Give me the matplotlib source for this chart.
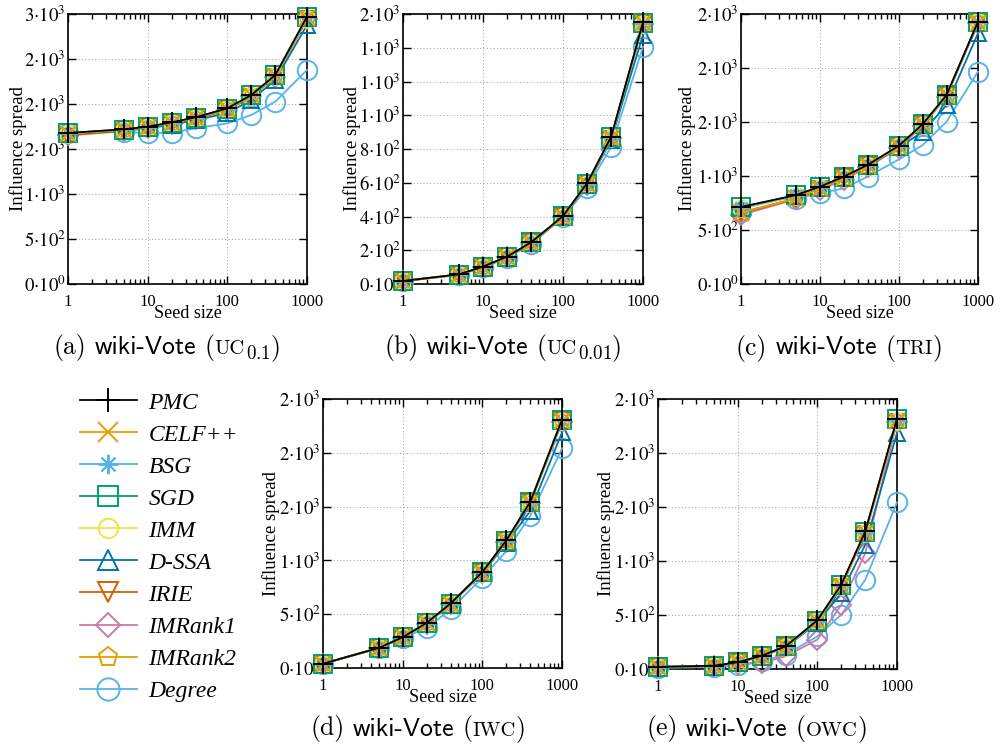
import matplotlib
matplotlib.use("Agg")
import matplotlib.pyplot as plt
from matplotlib.lines import Line2D
from matplotlib.offsetbox import TextArea, HPacker, AnnotationBbox

plt.rcParams['mathtext.fontset'] = 'stix'
plt.rcParams['font.family'] = ['Liberation Serif', 'DejaVu Serif']

seed_sizes = [1, 5, 10, 20, 40, 100, 200, 400, 1000]
methods = ["PMC", "CELF++", "BSG", "SGD", "IMM", "D-SSA", "IRIE", "IMRank1", "IMRank2", "Degree"]

# (a) UC 0.1
spread_uc01 = {
    "PMC":     [1678, 1719, 1748, 1796, 1852, 1952, 2100, 2322, 2970],
    "CELF++":  [1670, 1715, 1745, 1790, 1848, 1945, 2095, 2315, 2960],
    "BSG":     [1675, 1718, 1746, 1793, 1850, 1950, 2098, 2320, 2965],
    "SGD":     [1676, 1716, 1745, 1792, 1850, 1950, 2098, 2318, 2962],
    "IMM":     [1672, 1712, 1742, 1788, 1845, 1942, 2090, 2310, 2950],
    "D-SSA":   [1670, 1705, 1730, 1770, 1820, 1900, 2044, 2267, 2878],
    "IRIE":    [1650, 1700, 1735, 1780, 1835, 1930, 2080, 2300, 2940],
    "IMRank1": [1660, 1705, 1735, 1782, 1838, 1935, 2085, 2305, 2945],
    "IMRank2": [1668, 1710, 1740, 1786, 1843, 1940, 2090, 2312, 2950],
    "Degree":  [1678, 1690, 1676, 1681, 1730, 1785, 1878, 2026, 2378],
}
# (b) UC 0.01
spread_uc001 = {
    "PMC":     [18, 57, 103, 162, 247, 403, 597, 873, 1551],
    "CELF++":  [17, 56, 101, 160, 245, 400, 592, 868, 1545],
    "BSG":     [18, 57, 102, 161, 246, 402, 595, 870, 1548],
    "SGD":     [18, 56, 102, 161, 246, 401, 594, 870, 1547],
    "IMM":     [17, 55, 100, 159, 244, 399, 590, 865, 1540],
    "D-SSA":   [18, 56, 100, 160, 243, 400, 585, 855, 1476],
    "IRIE":    [16, 54, 99, 158, 242, 397, 588, 862, 1538],
    "IMRank1": [17, 55, 100, 159, 243, 398, 589, 863, 1540],
    "IMRank2": [17, 56, 101, 160, 245, 400, 591, 866, 1544],
    "Degree":  [18, 55, 98, 155, 235, 395, 567, 814, 1406],
}
# (c) TRI
spread_tri = {
    "PMC":     [713, 824, 901, 994, 1102, 1281, 1481, 1750, 2429],
    "CELF++":  [660, 795, 884, 982, 1092, 1272, 1472, 1742, 2420],
    "BSG":     [705, 820, 898, 990, 1098, 1278, 1478, 1746, 2425],
    "SGD":     [712, 822, 900, 992, 1100, 1280, 1480, 1748, 2428],
    "IMM":     [700, 815, 893, 986, 1095, 1275, 1475, 1744, 2422],
    "D-SSA":   [700, 815, 890, 985, 1090, 1265, 1410, 1657, 2321],
    "IRIE":    [654, 790, 880, 980, 1090, 1270, 1470, 1740, 2420],
    "IMRank1": [640, 785, 870, 965, 1080, 1262, 1465, 1735, 2415],
    "IMRank2": [658, 792, 882, 981, 1091, 1271, 1471, 1741, 2419],
    "Degree":  [665, 790, 840, 886, 994, 1154, 1287, 1503, 1966],
}
# (d) IWC
spread_iwc = {
    "PMC":     [40, 186, 286, 419, 600, 891, 1186, 1544, 2308],
    "CELF++":  [40, 185, 284, 416, 596, 886, 1180, 1538, 2300],
    "BSG":     [40, 186, 285, 418, 598, 889, 1183, 1541, 2304],
    "SGD":     [40, 186, 285, 418, 598, 889, 1184, 1542, 2305],
    "IMM":     [40, 185, 284, 416, 596, 886, 1180, 1536, 2298],
    "D-SSA":   [40, 186, 284, 415, 595, 880, 1160, 1460, 2190],
    "IRIE":    [39, 184, 282, 414, 593, 882, 1175, 1532, 2292],
    "IMRank1": [39, 184, 282, 413, 592, 880, 1172, 1530, 2290],
    "IMRank2": [40, 185, 284, 416, 596, 886, 1180, 1538, 2300],
    "Degree":  [40, 186, 280, 373, 544, 839, 1087, 1413, 2041],
}
# (e) OWC
spread_owc = {
    "PMC":     [19, 31, 62, 123, 210, 451, 781, 1275, 2318],
    "CELF++":  [19, 31, 61, 121, 207, 445, 772, 1262, 2300],
    "BSG":     [19, 31, 62, 122, 208, 448, 776, 1268, 2310],
    "SGD":     [19, 31, 62, 122, 209, 449, 778, 1270, 2312],
    "IMM":     [19, 30, 60, 120, 205, 442, 768, 1255, 2295],
    "D-SSA":   [19, 30, 60, 118, 200, 430, 704, 1151, 2185],
    "IRIE":    [18, 29, 58, 117, 200, 435, 760, 1250, 2290],
    "IMRank1": [15, 25, 45, 56, 117, 272, 596, 1074, 2290],
    "IMRank2": [19, 30, 60, 120, 205, 440, 765, 1255, 2295],
    "Degree":  [10, 20, 35, 70, 133, 302, 503, 827, 1543],
}

x_ticks = [1, 10, 100, 1000]
x_ticklabels = ["1", "10", "100", "1000"]

yticks_a = [0, 500, 1000, 1500, 2000, 2500, 3000]
ylabels_a = ["0", "5", "1", "2", "2", "2", "3"]
yexp_a = ["0", "2", "3", "3", "3", "3", "3"]
yticks_b = [0, 200, 400, 600, 800, 1000, 1200, 1400, 1600]
ylabels_b = ["0", "2", "4", "6", "8", "1", "1", "1", "2"]
yexp_b = ["0", "2", "2", "2", "2", "3", "3", "3", "3"]
yticks_cde = [0, 500, 1000, 1500, 2000, 2500]
ylabels_cde = ["0", "5", "1", "2", "2", "2"]
yexp_cde = ["0", "2", "3", "3", "3", "3"]

caption_tags = ["(a)", "(b)", "(c)", "(d)", "(e)"]
caption_dataset = "wiki-Vote"
caption_models = ["UC", "UC", "TRI", "IWC", "OWC"]
caption_subs = ["0.1", "0.01", "", "", ""]

colors = {"PMC": "#000000", "CELF++": "#E69F00", "BSG": "#56B4E9", "SGD": "#009E73",
          "IMM": "#F0E442", "D-SSA": "#0072B2", "IRIE": "#D55E00", "IMRank1": "#CC79A7",
          "IMRank2": "#E69F00", "Degree": "#56B4E9"}
markers = {"PMC": "+", "CELF++": "x", "BSG": (8, 2, 0), "SGD": "s", "IMM": "o",
           "D-SSA": "^", "IRIE": "v", "IMRank1": "D", "IMRank2": "p", "Degree": "o"}
msizes = {"PMC": 15, "CELF++": 12, "BSG": 12, "SGD": 12.5, "IMM": 12, "D-SSA": 12,
          "IRIE": 12, "IMRank1": 10, "IMRank2": 12, "Degree": 14}

W, H = 1001, 746
fig = plt.figure(figsize=(W / 100, H / 100), dpi=100)

def frac(l, t, r, b):
    return [l / W, 1 - b / H, (r - l) / W, (b - t) / H]

panels = [
    (frac(68, 14, 307, 284), spread_uc01, yticks_a, ylabels_a, yexp_a, 3000, (167, 348), -0.209),
    (frac(403, 14, 643, 284), spread_uc001, yticks_b, ylabels_b, yexp_b, 1600, (503, 348), -0.214),
    (frac(741, 14, 978, 284), spread_tri, yticks_cde, ylabels_cde, yexp_cde, 2500, (839, 348), -0.229),
    (frac(323, 399, 562, 668), spread_iwc, yticks_cde, ylabels_cde, yexp_cde, 2500, (418, 729), -0.216),
    (frac(658, 399, 897, 669), spread_owc, yticks_cde, ylabels_cde, yexp_cde, 2500, (757, 729), -0.216),
]

CAP = 18.5
rm = dict(fontsize=CAP, fontfamily=['cmr10', 'DejaVu Serif'], math_fontfamily='cm')
ss = dict(fontsize=CAP, fontfamily=['cmss10', 'DejaVu Sans'], math_fontfamily='cm')
sc = dict(fontsize=CAP * 0.8, fontfamily=['cmr10', 'DejaVu Serif'], math_fontfamily='cm')
sb = dict(fontsize=CAP * 1.05, fontfamily=['cmr10', 'DejaVu Serif'], math_fontfamily='cm')

for i, (rect, data, yt, ylm, yex, ymax, cap, ylx) in enumerate(panels):
    ax = fig.add_axes(rect)
    for m in reversed(methods):
        ax.plot(seed_sizes, data[m], color=colors[m], marker=markers[m], ms=msizes[m],
                mfc='none', mew=1.4, lw=1.3, clip_on=False, zorder=3)
    ax.set_xscale('log')
    ax.set_xlim(1, 1000)
    ax.set_ylim(0, ymax)
    ax.set_xticks(x_ticks)
    ax.set_xticklabels(x_ticklabels)
    ax.set_yticks(yt)
    ax.set_yticklabels([r"$%s{\cdot}10^{%s}$" % (a, b) for a, b in zip(ylm, yex)])
    ax.tick_params(which='both', direction='in', top=True, right=True, width=1.0)
    ax.tick_params(axis='x', which='major', length=6, pad=7, labelsize=12)
    ax.tick_params(axis='x', which='minor', length=3.5)
    ax.tick_params(axis='y', which='major', length=6, pad=1.5, labelsize=13.5)
    ax.grid(True, which='major', color='#aaaaaa', linestyle=(0, (1, 2)), lw=0.8)
    for s in ax.spines.values():
        s.set_linewidth(1.2)
    ax.set_ylabel("Influence spread", fontsize=13.5)
    ax.set_xlabel("Seed size", fontsize=13)
    ax.yaxis.set_label_coords(ylx, 0.5)
    ax.yaxis.label.set_verticalalignment('center')
    ax.xaxis.set_label_coords(0.5, -0.108)
    ax.xaxis.label.set_verticalalignment('center')

    parts = [TextArea("(", textprops=rm), TextArea(caption_models[i], textprops=sc)]
    if caption_subs[i]:
        parts.append(TextArea(r"$_{\mathrm{%s}}$" % caption_subs[i], textprops=sb))
    parts.append(TextArea(")", textprops=rm))
    inner = HPacker(children=parts, align='baseline', pad=0, sep=0)
    box = HPacker(children=[TextArea(caption_tags[i], textprops=rm),
                            TextArea(caption_dataset, textprops=ss),
                            inner],
                  align='baseline', pad=0, sep=6)
    ab = AnnotationBbox(box, (cap[0] / W, 1 - cap[1] / H), xycoords='figure fraction',
                        frameon=False, box_alignment=(0.5, 0.5), pad=0)
    fig.add_artist(ab)

handles = [Line2D([], [], color=colors[m], marker=markers[m], ms=msizes[m] + 2, mfc='none',
                  mew=1.4, lw=1.3) for m in methods]
fig.legend(handles, methods, loc='upper left', bbox_to_anchor=(80 / W, 1 - 392 / H),
           frameon=False, borderpad=0, borderaxespad=0, handlelength=2.4, handletextpad=0.5,
           labelspacing=0.445, prop={'family': 'Liberation Serif', 'style': 'italic', 'size': 17})

fig.savefig("out.png", dpi=100)
